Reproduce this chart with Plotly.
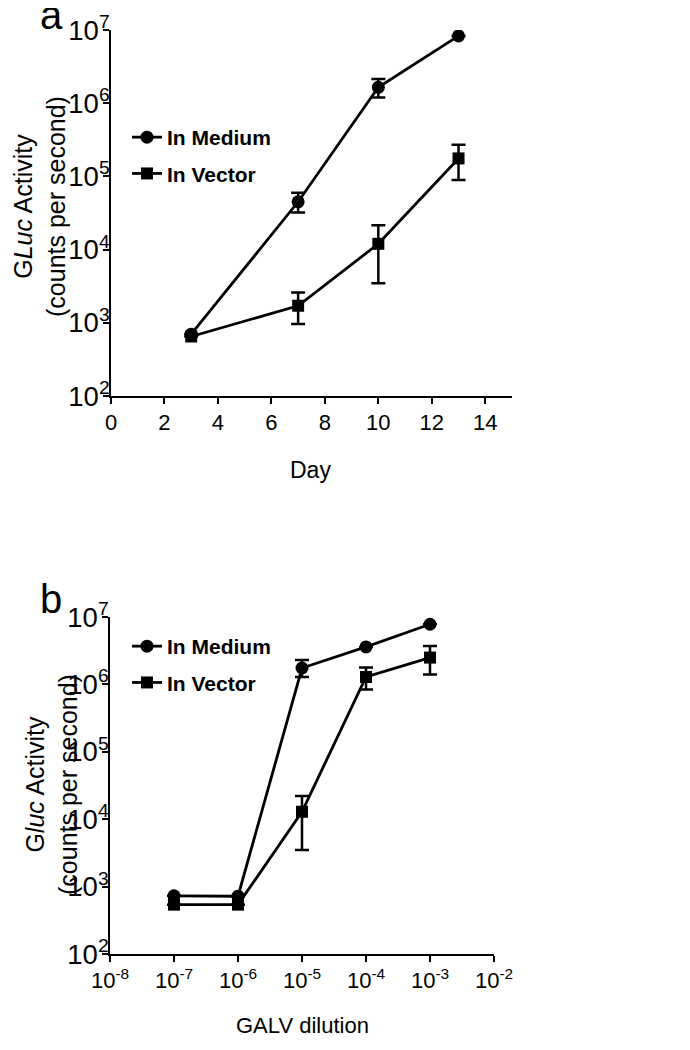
import plotly.graph_objects as go

# ---- Panel a data ----
days = [3, 7, 10, 13]
medium_a = [700, 45000, 1.65e6, 8.3e6]
medium_a_hi = [700, 60000, 2.14e6, 8.3e6]
medium_a_lo = [700, 32000, 1.2e6, 8.3e6]
vector_a = [650, 1710, 12000, 176000]
vector_a_hi = [650, 2600, 21500, 270000]
vector_a_lo = [650, 960, 3470, 89000]

# ---- Panel b data ----
dilution = [1e-7, 1e-6, 1e-5, 1e-4, 1e-3]
medium_b = [730, 720, 1.75e6, 3.6e6, 7.8e6]
medium_b_hi = [730, 720, 2.3e6, 3.6e6, 7.8e6]
medium_b_lo = [730, 720, 1.29e6, 3.6e6, 7.8e6]
vector_b = [540, 540, 12900, 1.29e6, 2.5e6]
vector_b_hi = [540, 540, 22000, 1.78e6, 3.7e6]
vector_b_lo = [540, 540, 3480, 8.4e5, 1.4e6]

series_names = ["In Medium", "In Vector"]
x_ticks_a = [0, 2, 4, 6, 8, 10, 12, 14]
x_ticks_b = [1e-8, 1e-7, 1e-6, 1e-5, 1e-4, 1e-3, 1e-2]
x_ticktext_b = ["10<sup>-8</sup>", "10<sup>-7</sup>", "10<sup>-6</sup>", "10<sup>-5</sup>",
                "10<sup>-4</sup>", "10<sup>-3</sup>", "10<sup>-2</sup>"]

FONT = "Liberation Sans, Arial, sans-serif"
OFF = 8                      # body margin of the page
W, H = 690 - 2 * OFF, 1050 - 2 * OFF


def px(x):
    return (x - OFF) / W


def py(y):
    return 1 - (y - OFF) / H


def err(vals, hi, lo):
    return dict(type="data", symmetric=False,
                array=[h - v for v, h in zip(vals, hi)],
                arrayminus=[v - l for v, l in zip(vals, lo)],
                color="black", thickness=2.5, width=7)


fig = go.Figure()

line = dict(color="black", width=2.8)

fig.add_trace(go.Scatter(x=days, y=medium_a, name=series_names[0], mode="lines+markers",
                         line=line, marker=dict(symbol="circle", size=13, color="black"),
                         error_y=err(medium_a, medium_a_hi, medium_a_lo),
                         xaxis="x", yaxis="y", legend="legend", legendgroup="m"))
fig.add_trace(go.Scatter(x=days, y=vector_a, name=series_names[1], mode="lines+markers",
                         line=line, marker=dict(symbol="square", size=12, color="black"),
                         error_y=err(vector_a, vector_a_hi, vector_a_lo),
                         xaxis="x", yaxis="y", legend="legend", legendgroup="v"))
fig.add_trace(go.Scatter(x=dilution, y=medium_b, name=series_names[0], mode="lines+markers",
                         line=line, marker=dict(symbol="circle", size=13, color="black"),
                         error_y=err(medium_b, medium_b_hi, medium_b_lo),
                         xaxis="x2", yaxis="y2", legend="legend2", legendgroup="m2"))
fig.add_trace(go.Scatter(x=dilution, y=vector_b, name=series_names[1], mode="lines+markers",
                         line=line, marker=dict(symbol="square", size=12, color="black"),
                         error_y=err(vector_b, vector_b_hi, vector_b_lo),
                         xaxis="x2", yaxis="y2", legend="legend2", legendgroup="v2"))

axis_common = dict(showgrid=False, zeroline=False, showline=True, linecolor="black",
                   linewidth=2, ticks="outside", ticklen=6, tickwidth=2, tickcolor="black",
                   color="black", automargin=False)

legend_common = dict(font=dict(family=FONT, size=21, color="black", weight="bold"),
                     bgcolor="rgba(0,0,0,0)", xanchor="left", yanchor="top",
                     tracegroupgap=6, itemwidth=30)

fig.update_layout(
    width=W, height=H,
    margin=dict(l=0, r=0, t=0, b=0, autoexpand=False),
    paper_bgcolor="white", plot_bgcolor="white",
    font=dict(family=FONT, color="black"),
    xaxis=dict(domain=[px(111), px(512)], range=[0, 15], tickvals=x_ticks_a,
               anchor="y", tickfont=dict(size=22), **axis_common),
    yaxis=dict(domain=[py(396), py(30)], type="log", range=[2, 7], dtick=1,
               exponentformat="power", anchor="x", tickfont=dict(size=22),
               ticklabelstandoff=-11, **axis_common),
    xaxis2=dict(domain=[px(110), px(494)], type="log", range=[-8, -2],
                tickvals=x_ticks_b, ticktext=x_ticktext_b,
                anchor="y2", tickfont=dict(size=22), **axis_common),
    yaxis2=dict(domain=[py(954), py(617)], type="log", range=[2, 7], dtick=1,
                exponentformat="power", anchor="x2", tickfont=dict(size=22),
                ticklabelstandoff=-11, **axis_common),
    legend=dict(x=px(127), y=py(117), **legend_common),
    legend2=dict(x=px(127), y=py(626), **legend_common),
    showlegend=True,
)

ann = []
ann.append(dict(text="a", x=px(51), y=py(-9), xref="paper", yref="paper",
                xanchor="center", yanchor="top", showarrow=False, font=dict(size=40)))
ann.append(dict(text="b", x=px(51), y=py(575), xref="paper", yref="paper",
                xanchor="center", yanchor="top", showarrow=False, font=dict(size=40)))
ann.append(dict(text="G<i>Luc</i> Activity<br>(counts per second)", x=px(39), y=py(207),
                xref="paper", yref="paper", xanchor="center", yanchor="middle",
                textangle=-90, showarrow=False, font=dict(size=25)))
ann.append(dict(text="G<i>luc</i> Activity<br>(counts per second)", x=px(51), y=py(785),
                xref="paper", yref="paper", xanchor="center", yanchor="middle",
                textangle=-90, showarrow=False, font=dict(size=25)))
ann.append(dict(text="Day", x=px(310), y=py(470), xref="paper", yref="paper",
                xanchor="center", yanchor="middle", showarrow=False, font=dict(size=23)))
ann.append(dict(text="GALV dilution", x=px(302), y=py(1025), xref="paper", yref="paper",
                xanchor="center", yanchor="middle", showarrow=False, font=dict(size=22)))
fig.update_layout(annotations=ann)

fig.write_html("out.html")
